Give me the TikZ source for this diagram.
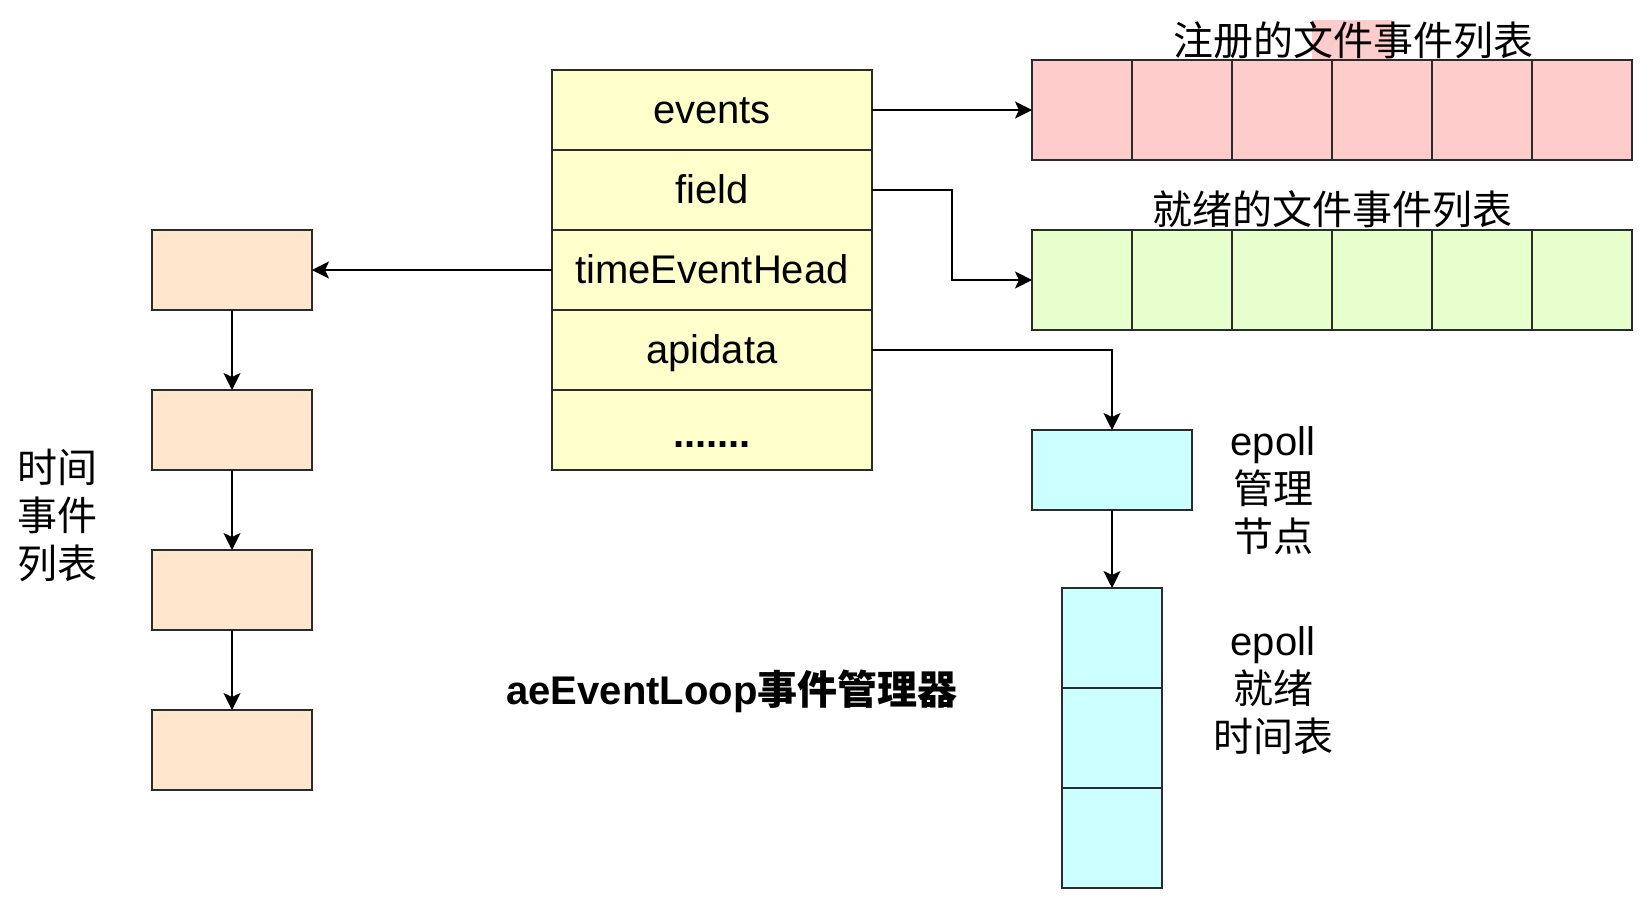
\documentclass[tikz,border=0pt]{standalone}
\usepackage{fontspec}
\setmainfont{Liberation Sans}
\newfontfamily\cjk{Noto Sans CJK SC}
\usetikzlibrary{arrows.meta}
\definecolor{lineC}{HTML}{2B2B2B}
\definecolor{yelC}{HTML}{FFFFCC}
\definecolor{pinkC}{HTML}{FFCCCC}
\definecolor{greenC}{HTML}{E6FFCC}
\definecolor{orC}{HTML}{FFE6CC}
\definecolor{cyC}{HTML}{CCFFFF}
\tikzset{
  box/.style={draw=lineC, line width=2pt, inner sep=0pt, outer sep=0pt, font=\fontsize{40}{48}\selectfont},
  row/.style={box, fill=yelC, minimum width=320pt, minimum height=80pt, text height=33pt, text depth=6pt},
  pcell/.style={box, fill=pinkC, minimum width=100pt, minimum height=100pt},
  gcell/.style={box, fill=greenC, minimum width=100pt, minimum height=100pt},
  ccell/.style={box, fill=cyC, minimum width=100pt, minimum height=100pt},
  obox/.style={box, fill=orC, minimum width=160pt, minimum height=80pt},
  cbox/.style={box, fill=cyC, minimum width=160pt, minimum height=80pt},
  lbl/.style={inner sep=0pt, align=center, font=\fontsize{40}{48}\selectfont},
  conn/.style={draw=black, line width=2pt, -{Stealth[length=17pt,width=17pt,inset=4pt]}}
}
\begin{document}
\begin{tikzpicture}[x=1pt,y=-1pt]
\fill[white] (0,0) rectangle (1650,905);
\useasboundingbox (0,0) rectangle (1650,905);

% yellow struct
\node[row] (ev) at (712,110) {events};
\node[row] (fi) at (712,190) {field};
\node[row] (te) at (712,270) {timeEventHead};
\node[row] (ap) at (712,350) {apidata};
\node[row] (dt) at (712,430) {\raisebox{-4pt}{\bfseries .......}};

% pink highlight behind title
\fill[pinkC] (1312,20) rectangle (1392,60);

% pink array
\foreach \i in {1,...,6} {
  \node[pcell] (p\i) at ({982+100*\i},110) {};
  \node[gcell] (g\i) at ({982+100*\i},280) {};
}
\node[lbl, font=\cjk\fontsize{40}{48}\selectfont] (pt) at (1353,40) {注册的文件事件列表};
\node[lbl, font=\cjk\fontsize{40}{48}\selectfont] (gt) at (1332,209) {就绪的文件事件列表};

% orange time events
\node[obox] (o1) at (232,270) {};
\node[obox] (o2) at (232,430) {};
\node[obox] (o3) at (232,590) {};
\node[obox] (o4) at (232,750) {};
\node[lbl, font=\cjk\fontsize{40}{48}\selectfont] (ot) at (57,515) {时间\\事件\\列表};

% epoll
\node[cbox] (ep) at (1112,470) {};
\node[ccell] (c1) at (1112,638) {};
\node[ccell] (c2) at (1112,738) {};
\node[ccell] (c3) at (1112,838) {};
\node[lbl] (et) at (1273,491) {epoll\\{\cjk 管理}\\{\cjk 节点}};
\node[lbl] (rt) at (1273,691) {epoll\\{\cjk 就绪}\\{\cjk 时间表}};

% caption
\node[lbl, font=\bfseries\fontsize{40}{48}\selectfont] (cap) at (732,691) {aeEventLoop{\cjk\bfseries 事件管理器}};

% connectors
\draw[conn] (ev.east) -- (p1.west);
\draw[conn] (fi.east) -- ++(80,0) |- (g1.west);
\draw[conn] (te.west) -- (o1.east);
\draw[conn] (ap.east) -| (ep.north);
\draw[conn] (ep.south) -- (c1.north);
\draw[conn] (o1.south) -- (o2.north);
\draw[conn] (o2.south) -- (o3.north);
\draw[conn] (o3.south) -- (o4.north);
\end{tikzpicture}
\end{document}
